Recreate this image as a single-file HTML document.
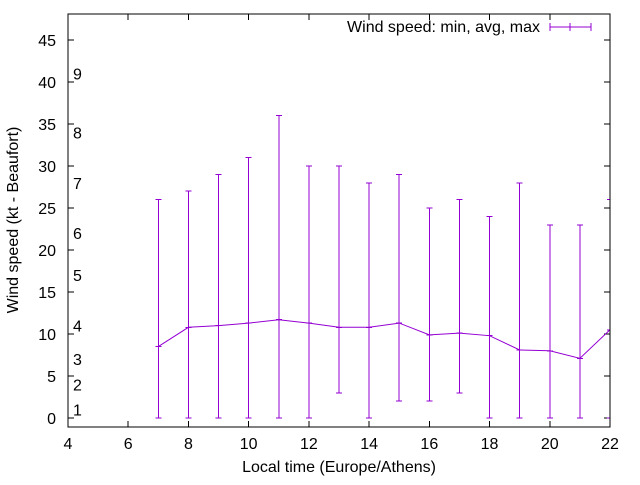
<!DOCTYPE html>
<html><head><meta charset="utf-8"><style>
body{margin:0;background:#fff}
svg text{font-family:"Liberation Sans",sans-serif;font-size:16px;fill:#000}
</style></head><body>
<svg id="c" width="640" height="480" xmlns="http://www.w3.org/2000/svg" shape-rendering="crispEdges">
<g id="grid"></g>
<g id="series"></g>
<rect x="68" y="14" width="542" height="413" fill="none" stroke="#000" stroke-width="1"/>
<text transform="translate(18,220) rotate(-90)" text-anchor="middle">Wind speed (kt - Beaufort)</text>
<text x="339" y="472" text-anchor="middle">Local time (Europe/Athens)</text>
<g>
<text x="540" y="32" text-anchor="end">Wind speed: min, avg, max</text>
<line x1="550" y1="27" x2="591" y2="27" stroke="#9400d3"/>
<line x1="550" y1="23" x2="550" y2="31" stroke="#9400d3"/>
<line x1="570" y1="23" x2="570" y2="31" stroke="#9400d3"/>
<line x1="591" y1="23" x2="591" y2="31" stroke="#9400d3"/>
</g>
</svg>
<script>
const hours=[7,8,9,10,11,12,13,14,15,16,17,18,19,20,21,22];
const minV=[0,0,0,0,0,0,3,0,2,2,3,0,0,0,0,0];
const avgV=[8.5,10.8,11,11.3,11.7,11.3,10.8,10.8,11.3,9.9,10.1,9.8,8.1,8,7.1,10.5];
const maxV=[26,27,29,31,36,30,30,28,29,25,26,24,28,23,23,26];
const xTicks=[4,6,8,10,12,14,16,18,20,22];
const yTicks=[0,5,10,15,20,25,30,35,40,45];
const beaufort=[1,2,3,4,5,6,7,8,9];
const beaufortKt=[1,4,7,11,17,22,28,34,41];
const NS="http://www.w3.org/2000/svg";
const X=v=>68+(v-4)*(542/18);
const Y=v=>418-v*8.4;
function mk(t,a,p){const e=document.createElementNS(NS,t);for(const k in a)e.setAttribute(k,a[k]);p.appendChild(e);return e;}
const g=document.getElementById('grid'),s=document.getElementById('series');
xTicks.forEach(v=>{const x=X(v);
const t=mk('g',{},g);


mk('line',{x1:x,y1:427,x2:x,y2:421,stroke:'#000'},t);
mk('line',{x1:x,y1:14,x2:x,y2:20,stroke:'#000'},t);
const tx=mk('text',{x:x,y:449,'text-anchor':'middle'},t);tx.textContent=v;});
yTicks.forEach(v=>{const y=Y(v);
const t=mk('g',{},g);


mk('line',{x1:68,y1:y,x2:74,y2:y,stroke:'#000'},t);
mk('line',{x1:610,y1:y,x2:604,y2:y,stroke:'#000'},t);
const tx=mk('text',{x:56,y:y+6,'text-anchor':'end'},t);tx.textContent=v;});
beaufort.forEach((b,i)=>{const tx=mk('text',{x:73,y:Y(beaufortKt[i])+6},g);


tx.textContent=b;});
const col='#9400d3';
const pts=hours.map((h,i)=>X(h)+','+Y(avgV[i])).join(' ');
const pl=mk('polyline',{points:pts,fill:'none',stroke:col,'stroke-width':1,'shape-rendering':'auto'},s);


hours.forEach((h,i)=>{const x=X(h);
const b=mk('g',{stroke:col,'stroke-width':1},s);


mk('line',{x1:x,y1:Y(minV[i]),x2:x,y2:Y(maxV[i])},b);
mk('line',{x1:x-3,y1:Y(minV[i]),x2:Math.min(x+3,610),y2:Y(minV[i])},b);
mk('line',{x1:x-3,y1:Y(maxV[i]),x2:Math.min(x+3,610),y2:Y(maxV[i])},b);
mk('line',{x1:x-3,y1:Y(avgV[i]),x2:Math.min(x+3,610),y2:Y(avgV[i])},b);});
</script>
</body></html>
